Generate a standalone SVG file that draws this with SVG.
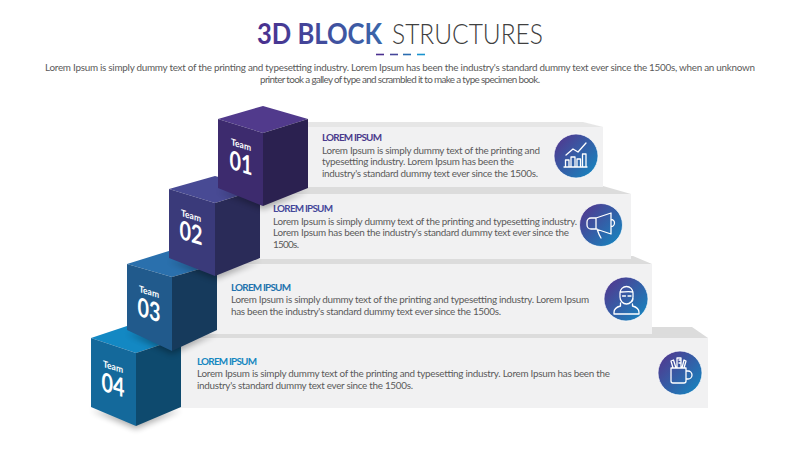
<svg xmlns="http://www.w3.org/2000/svg" width="800" height="450" viewBox="0 0 800 450">
<defs>
<linearGradient id="titleG" gradientUnits="userSpaceOnUse" x1="257" y1="0" x2="382" y2="0"><stop offset="0" stop-color="#4a2f8e"/><stop offset="1" stop-color="#3a66aa"/></linearGradient>
<linearGradient id="circG" x1="0.1" y1="0.1" x2="0.9" y2="0.85"><stop offset="0" stop-color="#503a90"/><stop offset="1" stop-color="#1a80bc"/></linearGradient>
<filter id="blur" x="-30%" y="-30%" width="160%" height="160%"><feGaussianBlur stdDeviation="3"/></filter>
</defs>
<style>
text{font-family:Lato,"Liberation Sans",sans-serif}
.t{font-size:9.9px;fill:#5a5a5a}
.h{font-size:9.9px;font-weight:700}
.strip{fill:#dcdcdc}
.panel{fill:#f1f1f2}
.ring{fill:url(#circG);stroke:#fff;stroke-opacity:.7;stroke-width:1}
.i{fill:none;stroke:#fff;stroke-width:1.3;stroke-linecap:round;stroke-linejoin:round}
.team{font-size:9.500px;font-weight:700;fill:#fff;text-anchor:middle}
.num{font-size:26px;font-weight:700;fill:#fff;text-anchor:middle}
.shadow{fill:#000;opacity:.32;filter:url(#blur)}
</style>
<g id="header">
<text x="257" y="44" font-size="28" font-weight="700" fill="url(#titleG)" textLength="125" lengthAdjust="spacingAndGlyphs">3D BLOCK</text>
<text x="392" y="44" font-size="28" font-weight="300" fill="#404040" textLength="151" lengthAdjust="spacingAndGlyphs">STRUCTURES</text>
<path d="M376 54.500h8" stroke="#4b2f8f" stroke-width="1.6"/><path d="M390 54.500h8" stroke="#45479a" stroke-width="1.6"/><path d="M403 54.500h8" stroke="#2a6cb0" stroke-width="1.6"/><path d="M417 54.500h8" stroke="#1a94cf" stroke-width="1.6"/>
<text class="t" x="45" y="70.500" textLength="710">Lorem Ipsum is simply dummy text of the printing and typesetting industry. Lorem Ipsum has been the industry's standard dummy text ever since the 1500s, when an unknown</text>
<text class="t" x="260" y="82.500" textLength="280">printer took a galley of type and scrambled it to make a type specimen book.</text>
</g>
<g id="panel4">
<polygon class="strip" points="150,327 692,327 708,338 150,338"/>
<rect class="panel" x="150" y="338" width="558" height="70"/>
<text class="h" x="197" y="364.500" fill="#1587c0" textLength="60">LOREM IPSUM</text>
<text class="t" x="197" y="377" textLength="413">Lorem Ipsum is simply dummy text of the printing and typesetting industry. Lorem Ipsum has been the</text>
<text class="t" x="197" y="389" textLength="216">industry's standard dummy text ever since the 1500s.</text>
<circle class="ring" cx="680" cy="373" r="22"/>
<path class="i" d="M671 368h15v13a2 2 0 0 1-2 2h-11a2 2 0 0 1-2-2zM686 371h2a3.500 3.500 0 0 1 0 8h-2M673 368l-2-7 2.500-1 2.500 8M677 368v-10h4v10M682 368l2-8 2 1-2 7M679 360h2M679 363h2"/>
</g>
<g id="panel3">
<polygon class="strip" points="190,256 633,256 652,264 190,264"/>
<rect class="panel" x="190" y="264" width="462" height="70"/>
<text class="h" x="231" y="290.500" fill="#2272ad" textLength="60">LOREM IPSUM</text>
<text class="t" x="231" y="302.500" textLength="358">Lorem Ipsum is simply dummy text of the printing and typesetting industry. Lorem Ipsum</text>
<text class="t" x="231" y="314.500" textLength="270">has been the industry's standard dummy text ever since the 1500s.</text>
<circle class="ring" cx="626" cy="299" r="22"/>
<path class="i" d="M620 297v-4a6.500 6.500 0 0 1 13 0v4c0 4-3 7-6.500 7s-6.500-3-6.500-7zM620 292c4 0 9-1 13 0M622.500 296h3M628 296h3M633 298c0 3-1 4-3 4.500M620.500 303v3c-4 1-6.500 3-6.500 6.500v1.500h25v-1.500c0-3.500-2.500-5.500-6.500-6.500v-2"/>
</g>
<g id="panel2">
<polygon class="strip" points="240,186 603,186 631,194 240,194"/>
<rect class="panel" x="240" y="194" width="391" height="65"/>
<text class="h" x="273" y="212" fill="#45479a" textLength="60">LOREM IPSUM</text>
<text class="t" x="273" y="224.500" textLength="304">Lorem Ipsum is simply dummy text of the printing and typesetting industry.</text>
<text class="t" x="273" y="236" textLength="296">Lorem Ipsum has been the industry's standard dummy text ever since the</text>
<text class="t" x="273" y="247.500" textLength="26">1500s.</text>
<circle class="ring" cx="601" cy="225" r="21.500"/>
<path class="i" d="M596 218h-5a4 4 0 0 0-4 4v3a4 4 0 0 0 4 4h5zM596 218l15-5v21l-15-5zM611 219.500a3.500 3.500 0 0 1 0 7M591 229l2 0M597 229c1 3 2 6 4 9"/>
</g>
<g id="panel1">
<polygon class="strip" points="285,122 583,122 603,127 285,127" fill-opacity=".7"/>
<rect class="panel" x="285" y="127" width="318" height="60"/>
<text class="h" x="322" y="141" fill="#4a3a8c" textLength="60">LOREM IPSUM</text>
<text class="t" x="322" y="153.500" textLength="218">Lorem Ipsum is simply dummy text of the printing and</text>
<text class="t" x="322" y="165" textLength="192">typesetting industry. Lorem Ipsum has been the</text>
<text class="t" x="322" y="176.500" textLength="216">industry's standard dummy text ever since the 1500s.</text>
<circle class="ring" cx="576" cy="156" r="22"/>
<path class="i" d="M564 167h23M565.500 167v-7h3.500v7M571 167v-10h4v10M577 167v-8h3.500v8M582.500 167v-13h3.500v13"/>
<path class="i" d="M566 155l7-6 5 3 8-9"/>
</g>
<g id="cube4">
<polygon class="shadow" points="91,410 136,429 181,410 136,416"/>
<polygon fill="#1388c3" points="91,338 136,323 181,338 136,353"/>
<polygon fill="#14699b" points="91,338 136,353 136,426 91,407"/>
<polygon fill="#0e4a6e" points="181,338 136,353 136,426 181,407"/>
<text class="team" transform="translate(113,370) skewY(17)" textLength="20" lengthAdjust="spacingAndGlyphs">Team</text>
<text class="num" transform="translate(113,394) skewY(17)" textLength="23" lengthAdjust="spacingAndGlyphs">04</text>
</g>
<g id="cube3">
<polygon class="shadow" points="127,333 172,354 217,333 172,340"/>
<polygon fill="#2a70ad" points="127,264 172,250 217,264 172,277"/>
<polygon fill="#215a8c" points="127,264 172,277 172,351 127,330"/>
<polygon fill="#163a5c" points="217,264 172,277 172,351 217,330"/>
<text class="team" transform="translate(149,295) skewY(17)" textLength="20" lengthAdjust="spacingAndGlyphs">Team</text>
<text class="num" transform="translate(149,319) skewY(17)" textLength="23" lengthAdjust="spacingAndGlyphs">03</text>
</g>
<g id="cube2">
<polygon class="shadow" points="169,261 215,279 260,261 215,268"/>
<polygon fill="#484a94" points="169,189 215,176 260,189 215,203"/>
<polygon fill="#3a3a7a" points="169,189 215,203 215,276 169,258"/>
<polygon fill="#2a2b58" points="260,189 215,203 215,276 260,258"/>
<text class="team" transform="translate(191,219) skewY(17)" textLength="20" lengthAdjust="spacingAndGlyphs">Team</text>
<text class="num" transform="translate(191,242) skewY(17)" textLength="23" lengthAdjust="spacingAndGlyphs">02</text>
</g>
<g id="cube1">
<polygon class="shadow" points="218,191 263,209 308,191 263,198"/>
<polygon fill="#513a8c" points="218,119 263,106 308,119 263,133"/>
<polygon fill="#3d2b6e" points="218,119 263,133 263,206 218,188"/>
<polygon fill="#2b2150" points="308,119 263,133 263,206 308,188"/>
<text class="team" transform="translate(241,148) skewY(17)" textLength="20" lengthAdjust="spacingAndGlyphs">Team</text>
<text class="num" transform="translate(241,172) skewY(17)" textLength="23" lengthAdjust="spacingAndGlyphs">01</text>
</g>
</svg>
